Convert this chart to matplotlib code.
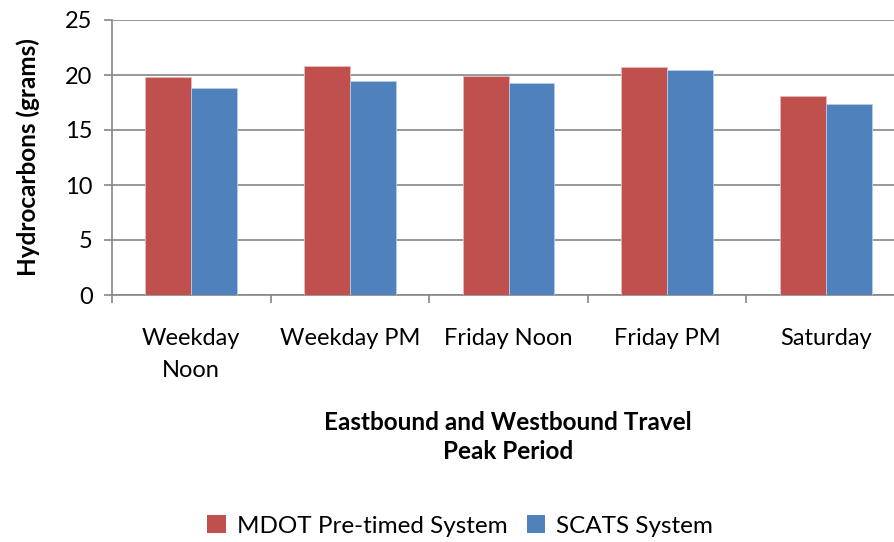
import matplotlib
matplotlib.use("Agg")
import matplotlib.pyplot as plt
import numpy as np
from matplotlib.patches import Patch

categories = ["Weekday\nNoon", "Weekday PM", "Friday Noon", "Friday PM", "Saturday"]
mdot_values = [19.85, 20.85, 19.95, 20.7, 18.1]
scats_values = [18.8, 19.45, 19.25, 20.45, 17.35]
series_names = ["MDOT Pre-timed System", "SCATS System"]
y_ticks = [0, 5, 10, 15, 20, 25]

RED = "#C0504D"
BLUE = "#4F81BD"
AXIS_GRAY = "#868686"

plt.rcParams["font.family"] = ["Lato", "DejaVu Sans"]

fig = plt.figure(figsize=(8.94, 5.42), dpi=100)
ax = fig.add_axes([112 / 894, 1 - 295 / 542, (905 - 112) / 894, 275 / 542])

x = np.arange(len(categories))
w = 0.29
ax.bar(x - w / 2, mdot_values, w, color=RED, edgecolor="#E6B9B8", linewidth=0.6, zorder=3)
ax.bar(x + w / 2, scats_values, w, color=BLUE, edgecolor="#B9CDE5", linewidth=0.6, zorder=3)

ax.set_xlim(-0.5, len(categories) - 0.5)
ax.set_ylim(0, 25)
ax.set_yticks(y_ticks)
ax.yaxis.grid(True, color=AXIS_GRAY, linewidth=1.2, zorder=0)
ax.set_axisbelow(True)

for side in ("top", "right"):
    ax.spines[side].set_visible(False)
for side in ("left", "bottom"):
    ax.spines[side].set_color(AXIS_GRAY)
    ax.spines[side].set_linewidth(1.2)

ax.set_xticks(x)
ax.set_xticklabels(categories, fontsize=17, linespacing=1.6)
ax.set_xticks(np.arange(len(categories) + 1) - 0.5, minor=True)
ax.tick_params(axis="x", which="major", length=0, pad=24)
ax.tick_params(axis="x", which="minor", length=6, width=1.2, color=AXIS_GRAY, direction="out")
ax.tick_params(axis="y", length=6, width=1.2, color=AXIS_GRAY, labelsize=17, pad=8)

ax.set_ylabel("Hydrocarbons (grams)", fontsize=17.5, fontweight="bold", labelpad=18)

fig.text(508 / 894, 1 - 437 / 542, "Eastbound and Westbound Travel\nPeak Period",
         ha="center", va="center", fontsize=17.5, fontweight="bold", linespacing=1.35)

handles = [Patch(facecolor=RED), Patch(facecolor=BLUE)]
fig.legend(handles, series_names, loc="center", bbox_to_anchor=(460 / 894, 1 - 526 / 542),
           ncol=2, frameon=False, fontsize=17.5, handlelength=0.75, handleheight=0.75,
           handletextpad=0.45, columnspacing=0.8)

fig.savefig("out.png", dpi=100)
